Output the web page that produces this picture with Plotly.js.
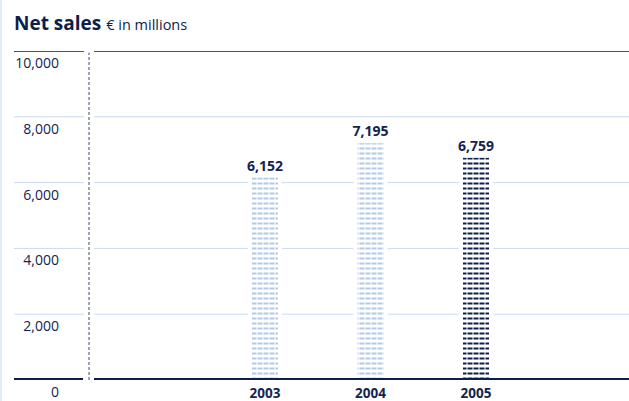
<!DOCTYPE html>
<html>
<head>
<meta charset="utf-8">
<script src="https://cdn.plot.ly/plotly-3.0.1.min.js"></script>
<style>html,body{margin:0;padding:0;background:#fff;}#chart{width:629px;height:401px;}</style>
</head>
<body>
<div id="chart"></div>
<script>
// ---- data ----
const years = [2003, 2004, 2005];
const netSales = [6152, 7195, 6759];
const barColors = ['#b3c9e6', '#b3c9e6', '#0c1e4a'];
const yTickVals = [0, 2000, 4000, 6000, 8000, 10000];
const yTickText = ['0', '2,000', '4,000', '6,000', '8,000', '10,000'];
const gridVals = [2000, 4000, 6000, 8000];
const xTickText = ['2003', '2004', '2005'];

const NAVY = '#0c1e4a';
const TEXT = '#14244f';
const GRID = '#c9dbef';

// plot geometry (px)
const W = 629, H = 401, L = 14, R = 0, T = 51, B = 21;
const PW = W - L - R, PH = H - T - B;
const px = v => (v - L) / PW; // pixel x -> paper x
const pxPerYear = 105.5;

const barW = 26 / pxPerYear;
const common = {type: 'bar', x: years, y: netSales, hoverinfo: 'skip', showlegend: false};
const traces = [
  // white halo interrupting the gridlines around each bar
  Object.assign({}, common, {width: barW + 8 / pxPerYear, marker: {color: '#ffffff', line: {width: 0}}}),
  Object.assign({}, common, {
    width: barW,
    marker: {color: '#ffffff', line: {width: 0},
      pattern: {shape: '-', fgcolor: barColors, bgcolor: '#ffffff', size: 5, solidity: 0.4, fillmode: 'replace'}},
    text: netSales.map(v => v.toLocaleString('en-US')),
    texttemplate: '<b>%{text}</b>', textposition: 'outside', constraintext: 'none',
    textfont: {family: 'Open Sans, sans-serif', size: 14, color: TEXT},
    cliponaxis: false
  }),
  Object.assign({}, common, {
    width: barW,
    marker: {color: 'rgba(0,0,0,0)', line: {width: 0},
      pattern: {shape: '|', fgcolor: '#ffffff', bgcolor: 'rgba(0,0,0,0)', size: 6, solidity: 0.34, fillmode: 'overlay'}}
  }),
  {
    type: 'scatter', x: [years[0]], y: [0], yaxis: 'y2', mode: 'markers',
    marker: {opacity: 0}, hoverinfo: 'skip', showlegend: false
  }
];

const shapes = [];
const gapL = px(84), gapR = px(94);
function hline(y, color, width) {
  shapes.push({type: 'line', xref: 'paper', yref: 'y', x0: 0, x1: gapL, y0: y, y1: y, line: {color, width}, layer: 'above'});
  shapes.push({type: 'line', xref: 'paper', yref: 'y', x0: gapR, x1: 1, y0: y, y1: y, line: {color, width}, layer: 'below'});
}
gridVals.forEach(v => hline(v, GRID, 1));
hline(10000, NAVY, 1.5);
// baseline drawn above bars
shapes.push({type: 'line', xref: 'paper', yref: 'y', x0: 0, x1: px(83), y0: 0, y1: 0, line: {color: NAVY, width: 4}, layer: 'above'});
shapes.push({type: 'line', xref: 'paper', yref: 'y', x0: px(94), x1: 1, y0: 0, y1: 0, line: {color: NAVY, width: 4}, layer: 'above'});
// dashed vertical separator
shapes.push({type: 'line', xref: 'paper', yref: 'paper', x0: px(89), x1: px(89), y0: 0, y1: 0.995,
  line: {color: '#3c4b72', width: 1, dash: '3px,2px'}, layer: 'above'});
// left page border
shapes.push({type: 'rect', xref: 'paper', yref: 'paper', x0: px(0), x1: px(2), y0: -B / PH, y1: (H - B) / PH,
  fillcolor: '#e2eaf5', line: {width: 0}, layer: 'above'});

const layout = {
  width: W, height: H,
  margin: {l: L, r: R, t: T, b: B, pad: 0},
  paper_bgcolor: '#ffffff', plot_bgcolor: '#ffffff',
  barmode: 'overlay',
  font: {family: 'Open Sans, sans-serif', color: TEXT, size: 12},
  title: {
    text: '<b>Net sales</b> <span style="font-size:14.5px">€ in millions</span>',
    xref: 'container', yref: 'container', x: 14 / W, xanchor: 'left', y: 1 - 23 / H, yanchor: 'middle',
    font: {family: 'Open Sans, sans-serif', size: 19, color: NAVY}
  },
  xaxis: {
    range: [2003 - 251 / pxPerYear, 2003 + (PW - 251) / pxPerYear],
    tickvals: years, ticktext: xTickText.map(t => '<b>' + t + '</b>'),
    showgrid: false, zeroline: false, showline: false, ticks: '',
    ticklabelstandoff: 3,
    tickfont: {size: 13.5, color: TEXT}, fixedrange: true
  },
  yaxis: {
    range: [0, 10000], showgrid: false, zeroline: false, showline: false,
    showticklabels: false, ticks: '', fixedrange: true
  },
  yaxis2: {
    overlaying: 'y', anchor: 'free', side: 'left', position: px(59),
    range: [0, 10000], tickvals: yTickVals, ticktext: yTickText,
    showgrid: false, zeroline: false, showline: false, ticks: '',
    ticklabelstandoff: 0,
    ticklabelshift: 12, tickfont: {size: 14, color: TEXT}, fixedrange: true
  },
  shapes: shapes
};

Plotly.newPlot('chart', traces, layout, {displayModeBar: false, staticPlot: true});
</script>
</body>
</html>
